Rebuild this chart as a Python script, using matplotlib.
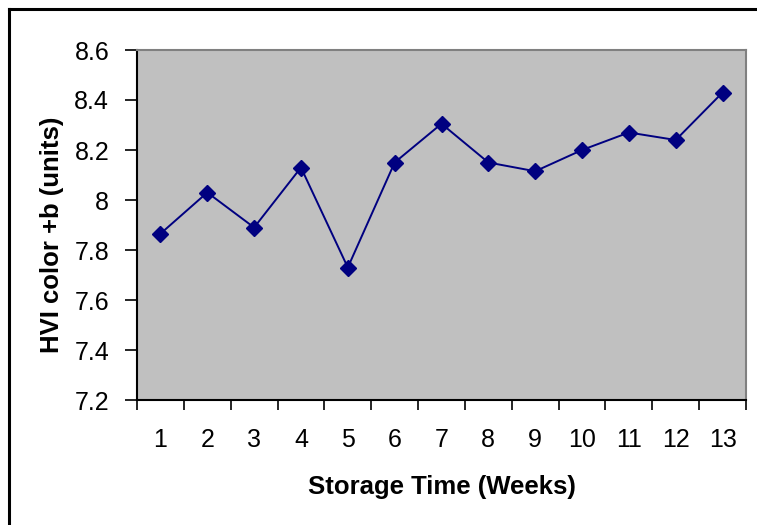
import numpy as np
import matplotlib.pyplot as plt
from matplotlib.ticker import FixedLocator, NullFormatter
from matplotlib.lines import Line2D

# HVI color +b over 13 weeks of storage
weeks = np.arange(1, 14)
week_labels = [str(w) for w in weeks]
color_b = [7.865, 8.03, 7.89, 8.13, 7.73, 8.15, 8.305, 8.15, 8.115, 8.20, 8.27, 8.24, 8.43]
y_ticks = [7.2, 7.4, 7.6, 7.8, 8.0, 8.2, 8.4, 8.6]
y_labels = ['7.2', '7.4', '7.6', '7.8', '8', '8.2', '8.4', '8.6']

plt.rcParams['font.family'] = ['Liberation Sans', 'DejaVu Sans']

fig = plt.figure(figsize=(7.57, 5.25), dpi=100)
ax = fig.add_axes([137/757, 1 - 400/525, 609/757, 350/525])
ax.set_facecolor('#C0C0C0')

ax.plot(weeks, color_b, color='#000080', linewidth=1.4,
        marker='D', markersize=8, markerfacecolor='#000080', markeredgecolor='#000080')

ax.set_xlim(0.5, 13.5)
ax.set_ylim(7.2, 8.6)
ax.set_yticks(y_ticks)
ax.set_yticklabels(y_labels)

# category axis: ticks between categories, labels centred
ax.set_xticks(weeks)
ax.set_xticklabels(week_labels)
ax.xaxis.set_minor_locator(FixedLocator(np.arange(0.5, 14, 1)))
ax.xaxis.set_minor_formatter(NullFormatter())
ax.tick_params(axis='x', which='major', length=0, pad=20, labelsize=18)
ax.tick_params(axis='x', which='minor', length=7, width=1.2, color='black')
ax.tick_params(axis='y', length=9, width=1.2, pad=11, labelsize=18)

for side in ['left', 'bottom']:
    ax.spines[side].set_color('black')
    ax.spines[side].set_linewidth(1.5)
for side in ['top', 'right']:
    ax.spines[side].set_color('#808080')
    ax.spines[side].set_linewidth(1.5)

ax.set_xlabel('Storage Time (Weeks)', fontsize=18.5, fontweight='bold')
ax.xaxis.set_label_coords(0.5, -(487 - 400) / 350)
ax.xaxis.label.set_va('center')
ax.set_ylabel('HVI color +b (units)', fontsize=18.5, fontweight='bold')
ax.yaxis.set_label_coords(-(137 - 52) / 609, (400 - 235) / 350)
ax.yaxis.label.set_va('center')

# outer chart border (only left and top visible in the crop)
fig.add_artist(Line2D([9/757, 9/757], [0, 1 - 9/525], color='black', linewidth=2.2))
fig.add_artist(Line2D([9/757, 1], [1 - 9/525, 1 - 9/525], color='black', linewidth=2.2))

fig.savefig('out.png', dpi=100)
